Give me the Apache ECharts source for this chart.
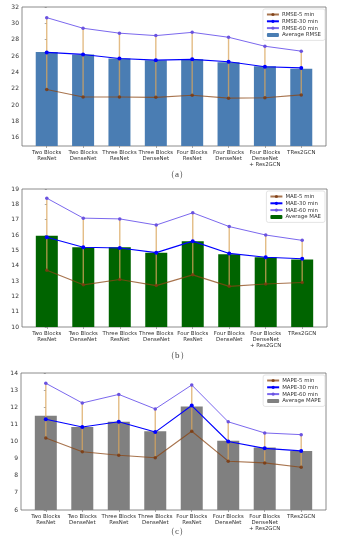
<!DOCTYPE html>
<html>
<head>
<meta charset="utf-8">
<script src="https://cdn.jsdelivr.net/npm/echarts@6/dist/echarts.min.js"></script>
<style>html,body{margin:0;padding:0;background:#fff;}#c{width:337px;height:550px;}</style>
</head>
<body>
<div id="c"></div>
<script>
const categories = ['Two Blocks\nResNet', 'Two Blocks\nDenseNet', 'Three Blocks\nResNet', 'Three Blocks\nDenseNet', 'Four Blocks\nResNet', 'Four Blocks\nDenseNet', 'Four Blocks\nDenseNet\n+ Res2GCN', 'TRes2GCN'];

const rmse5 = [21.9, 21.0, 21.0, 20.95, 21.2, 20.85, 20.9, 21.25];
const rmse30 = [26.45, 26.2, 25.7, 25.5, 25.6, 25.3, 24.7, 24.55];
const rmse60 = [30.7, 29.4, 28.8, 28.5, 28.9, 28.3, 27.2, 26.6];
const rmseAvg = [26.5, 26.2, 25.7, 25.5, 25.6, 25.25, 24.75, 24.45];
const rmseTicks = [16, 18, 20, 22, 24, 26, 28, 30, 32];

const mae5 = [13.7, 12.75, 13.1, 12.7, 13.4, 12.65, 12.8, 12.9];
const mae30 = [15.85, 15.2, 15.15, 14.85, 15.6, 14.8, 14.55, 14.45];
const mae60 = [18.4, 17.1, 17.05, 16.65, 17.45, 16.55, 16.0, 15.65];
const maeAvg = [15.95, 15.2, 15.2, 14.85, 15.6, 14.75, 14.55, 14.4];
const maeTicks = [10, 11, 12, 13, 14, 15, 16, 17, 18, 19];

const mape5 = [10.2, 9.4, 9.2, 9.05, 10.6, 8.85, 8.75, 8.5];
const mape30 = [11.3, 10.85, 11.15, 10.55, 12.1, 10.0, 9.6, 9.45];
const mape60 = [13.4, 12.25, 12.75, 11.9, 13.3, 11.15, 10.5, 10.4];
const mapeAvg = [11.5, 10.85, 11.15, 10.6, 12.05, 10.05, 9.65, 9.45];
const mapeTicks = [6, 7, 8, 9, 10, 11, 12, 13, 14];

const captions = ['（a）', '（b）', '（c）'];

const panels = [
  {metric: 'RMSE', s5: rmse5, s30: rmse30, s60: rmse60, avg: rmseAvg, ticks: rmseTicks, ymin: 15, ymax: 32, barColor: '#4a7db3',
   grid: {left: 22, right: 11, top: 7, height: 139}, legendTop: 9, capTop: 170},
  {metric: 'MAE', s5: mae5, s30: mae30, s60: mae60, avg: maeAvg, ticks: maeTicks, ymin: 10, ymax: 19, barColor: '#006400',
   grid: {left: 22, right: 10, top: 189, height: 138}, legendTop: 191, capTop: 351},
  {metric: 'MAPE', s5: mape5, s30: mape30, s60: mape60, avg: mapeAvg, ticks: mapeTicks, ymin: 6, ymax: 14, barColor: '#808080',
   grid: {left: 21, right: 11, top: 373, height: 137}, legendTop: 375, capTop: 527}
];

const idx = categories.map((c, i) => i);
const grids = [], xAxes = [], yAxes = [], series = [], legends = [], graphics = [];

panels.forEach((p, k) => {
  grids.push(Object.assign({show: true, borderColor: '#707070', borderWidth: 0.8, backgroundColor: 'transparent'}, p.grid));
  xAxes.push({
    type: 'value', gridIndex: k, min: -0.68, max: 7.68,
    axisLine: {show: false}, splitLine: {show: false},
    axisTick: {show: true, customValues: idx, length: 2, lineStyle: {color: '#707070', width: 0.6}},
    axisLabel: {show: true, customValues: idx, margin: 3, fontSize: 5.4, lineHeight: 6.4, color: '#333', fontFamily: 'DejaVu Sans',
      formatter: v => categories[Math.round(v)] || ''}
  });
  yAxes.push({
    type: 'value', gridIndex: k, min: p.ymin, max: p.ymax,
    axisLine: {show: false}, splitLine: {show: false},
    axisTick: {show: true, customValues: p.ticks, length: 2, lineStyle: {color: '#707070', width: 0.6}},
    axisLabel: {show: true, customValues: p.ticks, margin: 3, fontSize: 6, color: '#333', fontFamily: 'DejaVu Sans'}
  });
  const n5 = p.metric + '-5 min', n30 = p.metric + '-30 min', n60 = p.metric + '-60 min', nAvg = 'Average ' + p.metric;
  series.push({
    name: nAvg, type: 'bar', xAxisIndex: k, yAxisIndex: k, barWidth: 22, z: 1,
    itemStyle: {color: p.barColor}, data: p.avg.map((v, i) => [i, v])
  });
  series.push({
    name: p.metric + ' range', type: 'custom', xAxisIndex: k, yAxisIndex: k, z: 2, silent: true,
    encode: {x: 0, y: [1, 2]},
    data: p.s5.map((v, i) => [i, v, p.s60[i]]),
    renderItem: (params, api) => {
      const a = api.coord([api.value(0), api.value(1)]);
      const b = api.coord([api.value(0), api.value(2)]);
      return {type: 'line', shape: {x1: a[0], y1: a[1], x2: b[0], y2: b[1]},
        style: {stroke: '#d9a55c', lineWidth: 1.4, opacity: 0.75}};
    }
  });
  series.push({
    name: n5, type: 'line', xAxisIndex: k, yAxisIndex: k, z: 3, symbol: 'circle', symbolSize: 3.5,
    lineStyle: {color: '#8b4513', width: 1.1, opacity: 0.75}, itemStyle: {color: '#7a3a10', opacity: 0.85},
    data: p.s5.map((v, i) => [i, v])
  });
  series.push({
    name: n30, type: 'line', xAxisIndex: k, yAxisIndex: k, z: 4, symbol: 'circle', symbolSize: 4,
    lineStyle: {color: '#0000ff', width: 1.1}, itemStyle: {color: '#0000ff'},
    data: p.s30.map((v, i) => [i, v])
  });
  series.push({
    name: n60, type: 'line', xAxisIndex: k, yAxisIndex: k, z: 5, symbol: 'circle', symbolSize: 3.5,
    lineStyle: {color: '#7b68ee', width: 1}, itemStyle: {color: '#6a52e0'},
    data: p.s60.map((v, i) => [i, v])
  });
  legends.push({
    data: [n5, n30, n60, nAvg], orient: 'vertical', right: 12, top: p.legendTop,
    itemWidth: 12, itemHeight: 4, itemGap: 1.8, padding: [3, 4, 3, 3],
    borderColor: '#d8d8d8', borderWidth: 0.7, borderRadius: 2, backgroundColor: '#fff',
    selectedMode: false, textStyle: {fontSize: 5.4, color: '#333', fontFamily: 'DejaVu Sans', padding: [0, 0, 0, -2]}
  });
  graphics.push({type: 'text', left: 166, top: p.capTop,
    style: {text: captions[k], fontSize: 9, fontFamily: 'Liberation Serif', fill: '#444'}});
});

const chart = echarts.init(document.getElementById('c'), null, {renderer: 'canvas'});
chart.setOption({
  animation: false,
  backgroundColor: '#fff',
  grid: grids, xAxis: xAxes, yAxis: yAxes, series: series, legend: legends, graphic: graphics
});
</script>
</body>
</html>
